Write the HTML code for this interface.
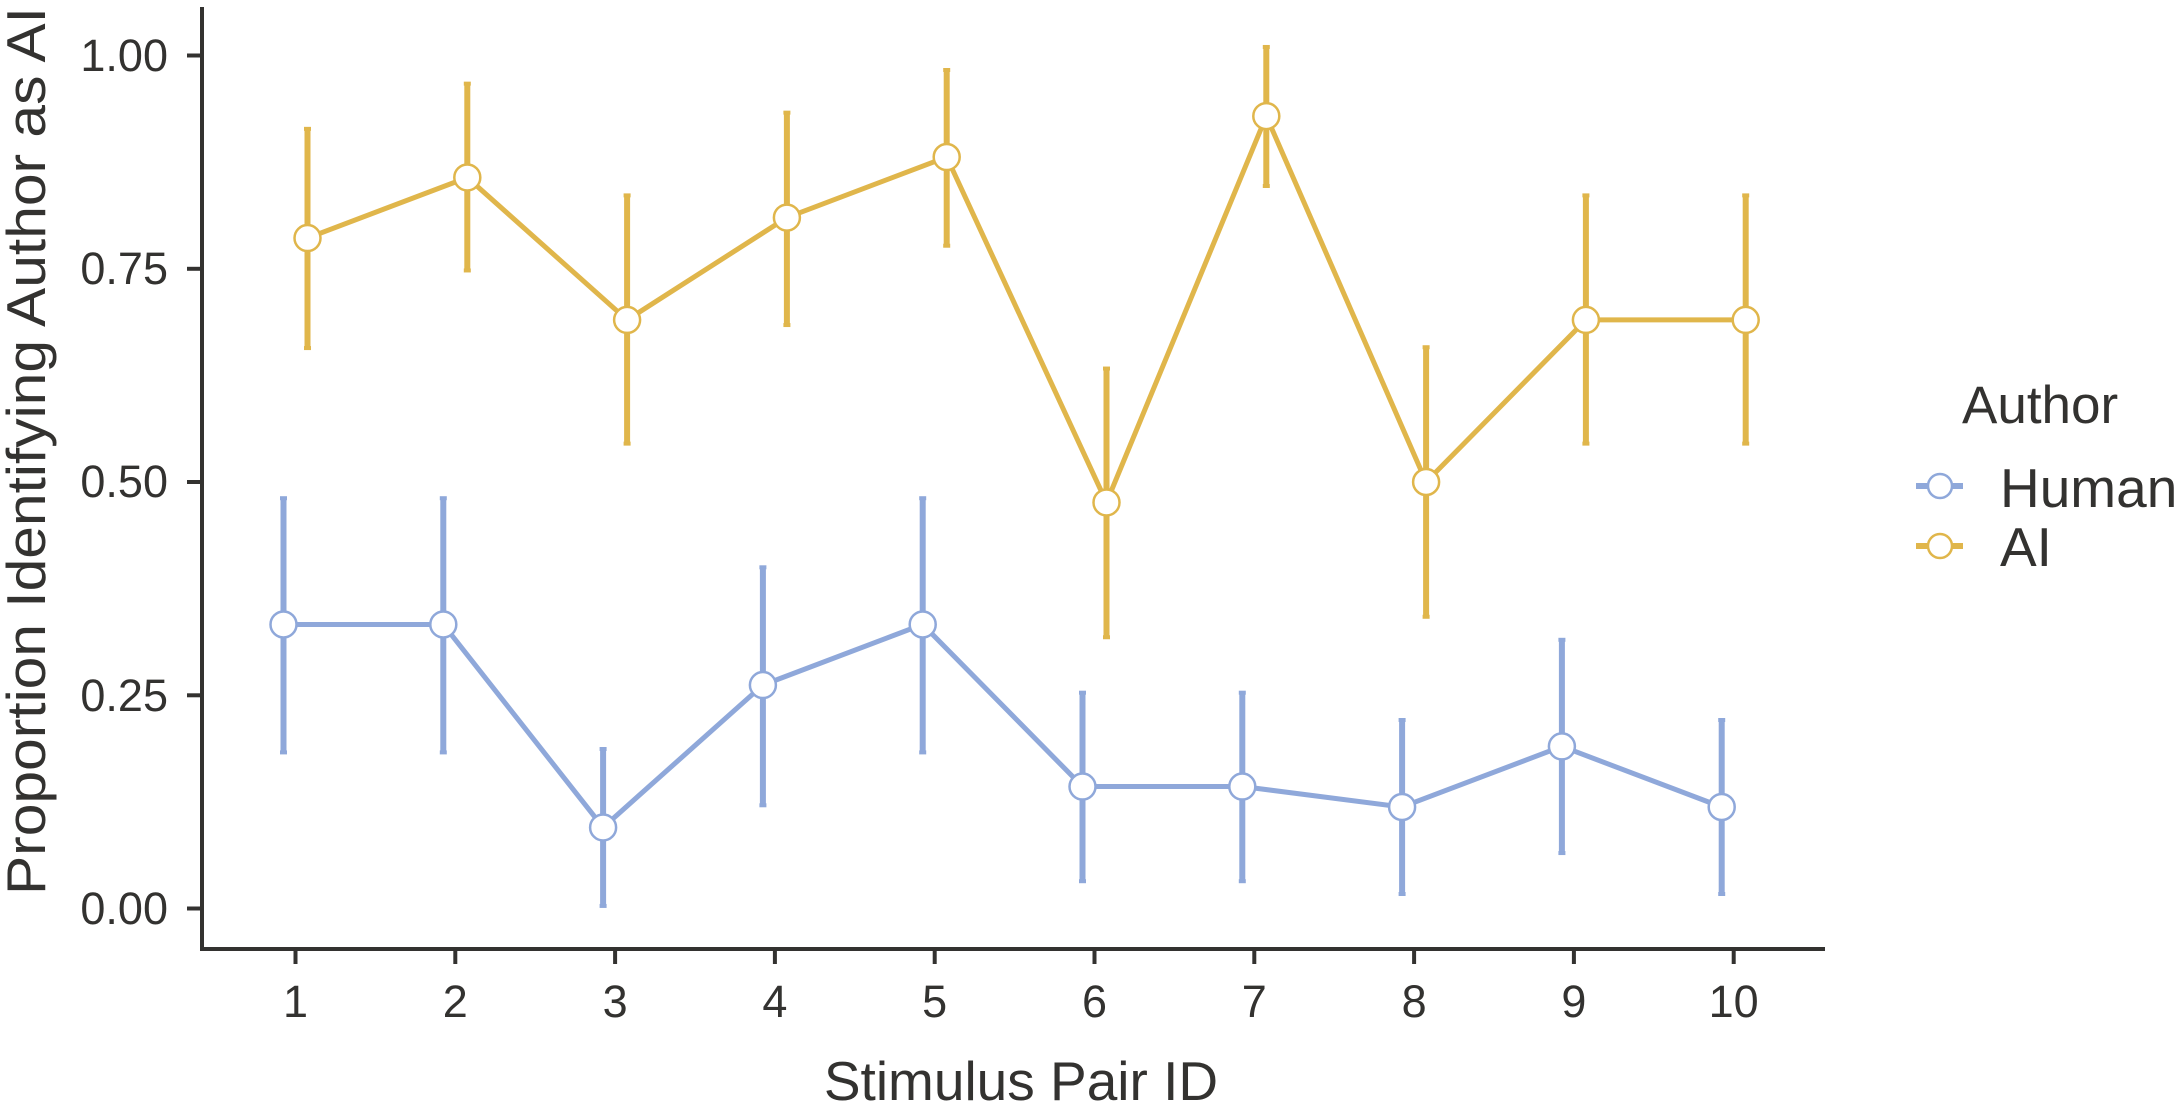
<!DOCTYPE html>
<html><head><meta charset="utf-8"><style>
html,body{margin:0;padding:0;background:#fff;}
svg{display:block;}
text{font-family:"Liberation Sans",Arial,sans-serif;fill:#333230;}
</style></head><body>
<svg width="2175" height="1106" viewBox="0 0 2175 1106" xmlns="http://www.w3.org/2000/svg">
<g stroke="#333230" stroke-width="4" fill="none">
<line x1="202" y1="7" x2="202" y2="951"/>
<line x1="200" y1="949" x2="1825" y2="949"/>
<line x1="187" y1="55.5" x2="202" y2="55.5"/>
<line x1="187" y1="268.8" x2="202" y2="268.8"/>
<line x1="187" y1="482" x2="202" y2="482"/>
<line x1="187" y1="695.3" x2="202" y2="695.3"/>
<line x1="187" y1="908.5" x2="202" y2="908.5"/>
</g>
<g font-size="45" text-anchor="end">
<text x="168" y="71">1.00</text>
<text x="168" y="284">0.75</text>
<text x="168" y="497">0.50</text>
<text x="168" y="711">0.25</text>
<text x="168" y="924">0.00</text>
</g>
<g id="xt" stroke="#333230" stroke-width="4"></g>
<g font-size="45" text-anchor="middle" id="xl"></g>
<text x="1021" y="1100" font-size="55" text-anchor="middle">Stimulus Pair ID</text>
<text transform="translate(45,451) rotate(-90)" font-size="55" text-anchor="middle" textLength="888" lengthAdjust="spacingAndGlyphs">Proportion Identifying Author as AI</text>
<g id="data"></g>
<text x="1962" y="423" font-size="53">Author</text>
<line x1="1916" y1="486" x2="1963" y2="486" stroke="#8FA8DA" stroke-width="6"/>
<circle cx="1940" cy="486" r="12" fill="#fff" stroke="#8FA8DA" stroke-width="2.5"/>
<text x="2000" y="507" font-size="55">Human</text>
<line x1="1916" y1="546" x2="1963" y2="546" stroke="#E0B64B" stroke-width="6"/>
<circle cx="1940" cy="546" r="12" fill="#fff" stroke="#E0B64B" stroke-width="2.5"/>
<text x="2000" y="566" font-size="55">AI</text>
</svg>
<script>
(function(){
var ns="http://www.w3.org/2000/svg";
function X(i){return 295.5+(i-1)*159.8;}
function Y(v){return 908.5-v*853;}
var xt=document.getElementById('xt'),xl=document.getElementById('xl'),d=document.getElementById('data');
function el(p,t,a,txt){var e=document.createElementNS(ns,t);for(var k in a)e.setAttribute(k,a[k]);if(txt)e.textContent=txt;p.appendChild(e);return e;}
for(var i=1;i<=10;i++){el(xt,'line',{x1:X(i),y1:949,x2:X(i),y2:964});el(xl,'text',{x:X(i),y:1017},String(i));}
var S=[
{c:"#8FA8DA",o:-12,v:[[.333,.183,.481],[.333,.183,.481],[.095,.003,.187],[.262,.121,.4],[.333,.183,.481],[.143,.032,.253],[.143,.032,.253],[.119,.017,.221],[.190,.065,.315],[.119,.017,.221]]},
{c:"#E0B64B",o:12,v:[[.786,.657,.914],[.857,.748,.967],[.690,.545,.836],[.810,.684,.933],[.881,.777,.983],[.476,.318,.633],[.929,.847,1.01],[.500,.342,.658],[.690,.545,.836],[.690,.545,.836]]}];
S.forEach(function(s){
 var pts=s.v.map(function(v,i){return (X(i+1)+s.o)+","+Y(v[0]);}).join(" ");
 s.v.forEach(function(v,i){var x=X(i+1)+s.o;
  el(d,'line',{x1:x,y1:Y(v[1]),x2:x,y2:Y(v[2]),stroke:s.c,"stroke-width":6});
  el(d,'line',{x1:x-3.5,y1:Y(v[1]),x2:x+3.5,y2:Y(v[1]),stroke:s.c,"stroke-width":4});
  el(d,'line',{x1:x-3.5,y1:Y(v[2]),x2:x+3.5,y2:Y(v[2]),stroke:s.c,"stroke-width":4});
 });
 el(d,'polyline',{points:pts,fill:"none",stroke:s.c,"stroke-width":5});
 s.v.forEach(function(v,i){el(d,'circle',{cx:X(i+1)+s.o,cy:Y(v[0]),r:13,fill:"#fff",stroke:s.c,"stroke-width":2.5});});
});
})();
</script>
</body></html>
